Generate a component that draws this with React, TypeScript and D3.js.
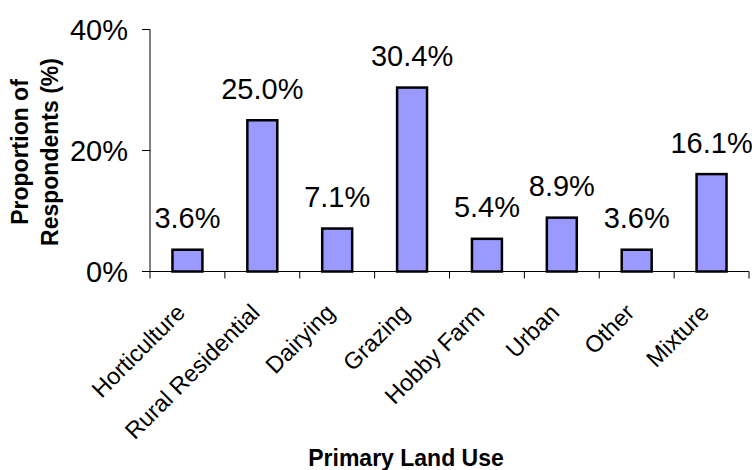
import React from "react";
import * as d3 from "d3";

const categories = [
  "Horticulture",
  "Rural Residential",
  "Dairying",
  "Grazing",
  "Hobby Farm",
  "Urban",
  "Other",
  "Mixture",
];
const values = [3.6, 25.0, 7.1, 30.4, 5.4, 8.9, 3.6, 16.1];
const yTicks = [0, 20, 40];
const xTitle = "Primary Land Use";
const yTitleLines = ["Proportion of", "Respondents (%)"];

const W = 752;
const H = 470;
const FONT = "'Liberation Sans', Arial, Helvetica, sans-serif";

export default function App() {
  const x = d3
    .scaleBand<string>()
    .domain(categories)
    .range([150, 749])
    .paddingInner(0.6)
    .paddingOuter(0.3);
  const y = d3.scaleLinear().domain([0, 40]).range([271.5, 29.5]);
  const [x0, x1] = x.range();
  const step = x.step();
  const boundaries = d3.range(categories.length + 1).map((i) => x0 + i * step);
  const fmt = (v: number) => `${v.toFixed(1)}%`;

  return (
    <svg
      width={W}
      height={H}
      viewBox={`0 0 ${W} ${H}`}
      style={{ position: "absolute", left: 0, top: 0, background: "#fff" }}
      fontFamily={FONT}
    >
      {/* bars */}
      {categories.map((c, i) => (
        <rect
          key={c}
          x={x(c)}
          y={y(values[i])}
          width={x.bandwidth()}
          height={y(0) - y(values[i])}
          fill="#9999FF"
          stroke="#000"
          strokeWidth={2.5}
        />
      ))}

      {/* value labels */}
      {categories.map((c, i) => (
        <text
          key={c}
          x={(x(c) as number) + x.bandwidth() / 2}
          y={y(values[i]) - 21.5}
          textAnchor="middle"
          fontSize={29}
          fill="#000"
        >
          {fmt(values[i])}
        </text>
      ))}

      {/* y axis */}
      <line x1={150} x2={150} y1={y(40)} y2={y(0)} stroke="#000" strokeWidth={1} />
      {yTicks.map((t) => (
        <g key={t}>
          <line x1={142} x2={150} y1={y(t)} y2={y(t)} stroke="#000" strokeWidth={1} />
          <text
            x={128}
            y={y(t)}
            dy="0.36em"
            textAnchor="end"
            fontSize={29}
            fill="#000"
          >
            {`${t}%`}
          </text>
        </g>
      ))}

      {/* x axis */}
      <line x1={x0} x2={x1} y1={y(0)} y2={y(0)} stroke="#000" strokeWidth={1} />
      {boundaries.map((b, i) => (
        <line key={i} x1={b} x2={b} y1={y(0)} y2={y(0) + 7} stroke="#000" strokeWidth={1} />
      ))}
      {categories.map((c) => {
        const cx = (x(c) as number) + x.bandwidth() / 2 - 1;
        const cy = 314;
        return (
          <text
            key={c}
            x={cx}
            y={cy}
            textAnchor="end"
            fontSize={23.5}
            fill="#000"
            transform={`rotate(-45, ${cx}, ${cy})`}
          >
            {c}
          </text>
        );
      })}

      {/* axis titles */}
      <text x={406} y={466} textAnchor="middle" fontSize={23} fontWeight="bold" fill="#000">
        {xTitle}
      </text>
      <text
        transform="translate(28, 152) rotate(-90)"
        textAnchor="middle"
        fontSize={23}
        fontWeight="bold"
        fill="#000"
      >
        <tspan x={0} y={0}>{yTitleLines[0]}</tspan>
        <tspan x={0} y={30}>{yTitleLines[1]}</tspan>
      </text>
    </svg>
  );
}
